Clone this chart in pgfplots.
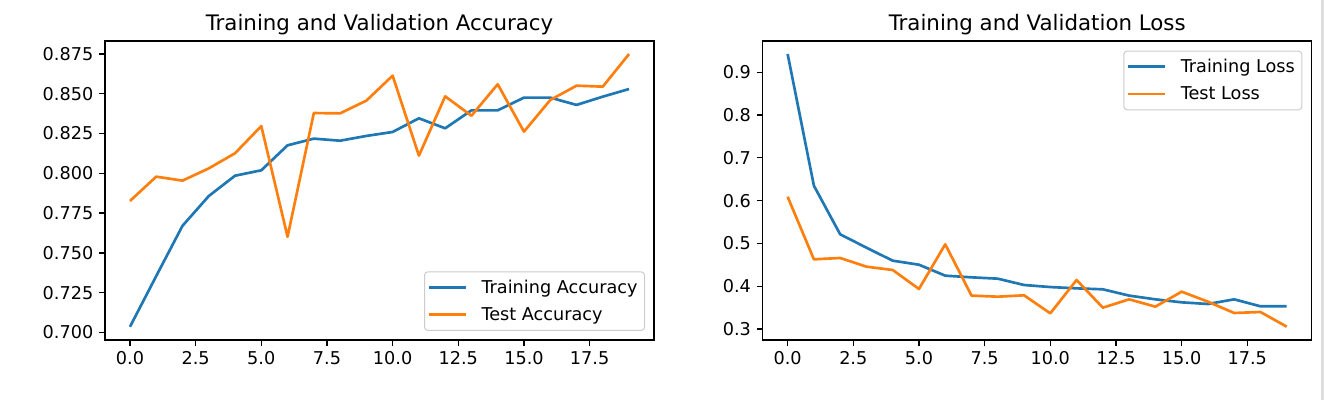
\documentclass[border=0pt]{standalone}
\usepackage{fontspec}
\setmainfont{DejaVu Sans}
\usepackage{pgfplots}
\pgfplotsset{compat=1.18}
\definecolor{mplblue}{HTML}{1F77B4}
\definecolor{mplorange}{HTML}{FF7F0E}
\definecolor{legedge}{HTML}{CCCCCC}
\pgfplotsset{
  mplaxis/.style={
    scale only axis, width=329.4pt, height=179.4pt,
    axis line style={line width=0.8pt, black},
    tick align=outside, tick pos=left,
    tick style={line width=0.8pt, black},
    major tick length=3.5pt,
    xmin=-0.95, xmax=19.95,
    xtick={0,2.5,5,7.5,10,12.5,15,17.5},
    tick label style={font=\fontsize{10.6}{12}\selectfont},
    /pgf/number format/assume math mode=true,
    xticklabel style={/pgf/number format/.cd, fixed, fixed zerofill, precision=1},
    title style={font=\fontsize{12.8}{15}\selectfont, at={(0.5,1)}, anchor=south,
      inner sep=0pt, text depth=0pt, yshift=0pt},
    legend style={font=\fontsize{10.6}{12}\selectfont, draw=legedge, fill=white,
      fill opacity=0.8, text opacity=1, rounded corners=2pt, line width=0.6pt,
      inner xsep=2pt, inner ysep=1.5pt, row sep=0.6pt, column sep=6.4pt,
      nodes={inner xsep=2.2pt, inner ysep=1.5pt, text height=9.9pt, text depth=2.9pt}},
    legend cell align=left,
    legend image code/.code={\draw[#1, line width=1.6pt] (0pt,0pt) -- (22pt,0pt);},
    every axis plot/.append style={line width=1.6pt, line join=round},
  }
}
\begin{document}
\begin{tikzpicture}
\path[use as bounding box] (0,0) rectangle (794.4pt,240pt);
\fill[black!13] (792.6pt,0) rectangle (794.4pt,240pt);

\begin{axis}[mplaxis,
  at={(63pt,36pt)}, anchor=south west,
  title={Training and Validation Accuracy},
  ymin=0.6952, ymax=0.8832,
  ytick={0.700,0.725,0.750,0.775,0.800,0.825,0.850,0.875},
  yticklabel style={/pgf/number format/.cd, fixed, fixed zerofill, precision=3},
  legend style={at={(1,0)}, anchor=south east, xshift=-5.4pt, yshift=5.4pt},
]
\addplot[mplblue, no marks, line width=1.6pt] coordinates {
 (0,0.7035)(1,0.7354)(2,0.7670)(3,0.7857)(4,0.7985)(5,0.8019)(6,0.8176)(7,0.8218)(8,0.8205)(9,0.8235)
 (10,0.8260)(11,0.8346)(12,0.8283)(13,0.8396)(14,0.8396)(15,0.8476)(16,0.8476)(17,0.8430)(18,0.8482)(19,0.8530)};
\addlegendentry{Training Accuracy}
\addplot[mplorange, no marks, line width=1.6pt] coordinates {
 (0,0.7826)(1,0.7979)(2,0.7954)(3,0.8031)(4,0.8126)(5,0.8297)(6,0.7601)(7,0.8379)(8,0.8377)(9,0.8457)
 (10,0.8614)(11,0.8111)(12,0.8484)(13,0.8362)(14,0.8560)(15,0.8262)(16,0.8461)(17,0.8551)(18,0.8545)(19,0.8750)};
\addlegendentry{Test Accuracy}
\end{axis}

\begin{axis}[mplaxis,
  at={(457.6pt,36pt)}, anchor=south west,
  title={Training and Validation Loss},
  ymin=0.2743, ymax=0.9729,
  ytick={0.3,0.4,0.5,0.6,0.7,0.8,0.9},
  yticklabel style={/pgf/number format/.cd, fixed, fixed zerofill, precision=1},
  legend style={at={(1,1)}, anchor=north east, xshift=-5.6pt, yshift=-5.8pt},
]
\addplot[mplblue, no marks, line width=1.6pt] coordinates {
 (0,0.9425)(1,0.6348)(2,0.5212)(3,0.4900)(4,0.4596)(5,0.4502)(6,0.4246)(7,0.4207)(8,0.4176)(9,0.4028)
 (10,0.3980)(11,0.3950)(12,0.3927)(13,0.3780)(14,0.3693)(15,0.3623)(16,0.3584)(17,0.3693)(18,0.3530)(19,0.3530)};
\addlegendentry{Training Loss}
\addplot[mplorange, no marks, line width=1.6pt] coordinates {
 (0,0.6090)(1,0.4628)(2,0.4659)(3,0.4456)(4,0.4379)(5,0.3935)(6,0.4979)(7,0.3780)(8,0.3755)(9,0.3787)
 (10,0.3366)(11,0.4145)(12,0.3498)(13,0.3693)(14,0.3522)(15,0.3872)(16,0.3638)(17,0.3374)(18,0.3397)(19,0.3054)};
\addlegendentry{Test Loss}
\end{axis}
\end{tikzpicture}
\end{document}
